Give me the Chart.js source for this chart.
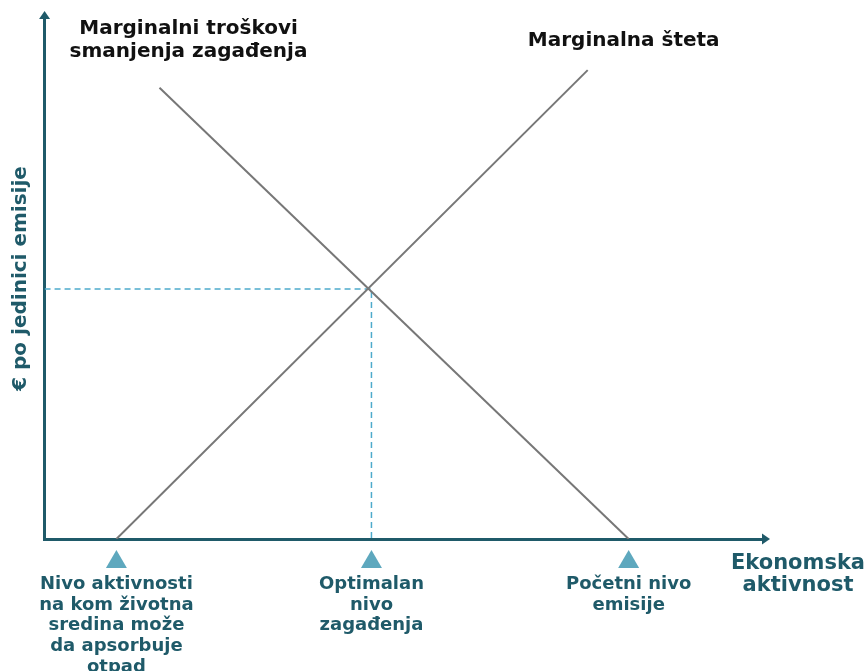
<!DOCTYPE html>
<html>
<head>
<meta charset="utf-8">
<script src="https://cdn.jsdelivr.net/npm/chart.js@4.4.1/dist/chart.umd.min.js"></script>
<style>
  html,body{margin:0;padding:0;background:#fff;}
  #wrap{width:867px;height:671px;position:relative;}
</style>
</head>
<body>
<div id="wrap"><canvas id="c"></canvas></div>
<script>
// ---- data ----
const xTickValues = [1.0, 4.55, 8.13];
const xTickLabels = [
  ["Nivo aktivnosti", "na kom životna", "sredina može", "da apsorbuje", "otpad"],
  ["Optimalan", "nivo", "zagađenja"],
  ["Početni nivo", "emisije"]
];
const damageX = [1.0, 7.56];
const damageY = [0, 9.0];
const abatementX = [1.6, 8.13];
const abatementY = [8.66, 0];
const optimumX = 4.55;
const optimumY = 4.8;
const damageLabel = "Marginalna šteta";
const abatementLabel = ["Marginalni troškovi", "smanjenja zagađenja"];
const xTitle = ["Ekonomska", "aktivnost"];
const yTitle = "€ po jedinici emisije";

const AXIS = "#1f5a69";
const TEAL_TEXT = "#1f5a69";
const TRI = "#5ea8be";
const DASH = "#4eaacb";
const LINE = "#777777";
const FONT = "'DejaVu Sans', sans-serif";

const toPts = (xs, ys) => xs.map((x, i) => ({x, y: ys[i]}));

const overlay = {
  id: 'overlay',
  afterDraw(chart) {
    const {ctx, chartArea: a, scales: {x, y}} = chart;
    ctx.save();
    // arrows
    ctx.fillStyle = AXIS;
    ctx.beginPath();
    ctx.moveTo(a.left, a.top - 7);
    ctx.lineTo(a.left - 5.5, a.top + 1);
    ctx.lineTo(a.left + 5.5, a.top + 1);
    ctx.closePath(); ctx.fill();
    ctx.beginPath();
    ctx.moveTo(a.right + 7, a.bottom);
    ctx.lineTo(a.right - 1, a.bottom - 5.5);
    ctx.lineTo(a.right - 1, a.bottom + 5.5);
    ctx.closePath(); ctx.fill();
    // triangles under ticks
    ctx.fillStyle = TRI;
    xTickValues.forEach(v => {
      const px = x.getPixelForValue(v);
      ctx.beginPath();
      ctx.moveTo(px, a.bottom + 11);
      ctx.lineTo(px - 10.5, a.bottom + 29);
      ctx.lineTo(px + 10.5, a.bottom + 29);
      ctx.closePath(); ctx.fill();
    });
    // curve labels
    ctx.fillStyle = "#111";
    ctx.textAlign = "center";
    ctx.textBaseline = "middle";
    ctx.font = "bold 20px " + FONT;
    const ax = x.getPixelForValue(abatementX[0]);
    const ay = y.getPixelForValue(abatementY[0]);
    ctx.fillText(abatementLabel[0], ax + 29, ay - 59);
    ctx.fillText(abatementLabel[1], ax + 29, ay - 36);
    const dx = x.getPixelForValue(damageX[1]);
    const dy = y.getPixelForValue(damageY[1]);
    ctx.font = "bold 20px " + FONT;
    ctx.fillText(damageLabel, dx + 36, dy - 29);
    // x title
    ctx.fillStyle = TEAL_TEXT;
    ctx.font = "bold 21px " + FONT;
    ctx.fillText(xTitle[0], a.right + 35, a.bottom + 25);
    ctx.fillText(xTitle[1], a.right + 35, a.bottom + 47);
    ctx.restore();
  }
};

new Chart(document.getElementById('c'), {
  type: 'scatter',
  data: {
    datasets: [
      {
        data: toPts(damageX, damageY),
        showLine: true, borderColor: LINE, borderWidth: 2, pointRadius: 0
      },
      {
        data: toPts(abatementX, abatementY),
        showLine: true, borderColor: LINE, borderWidth: 2, pointRadius: 0
      },
      {
        data: [{x: 0, y: optimumY}, {x: optimumX, y: optimumY}, {x: optimumX, y: 0}],
        showLine: true, borderColor: DASH, borderWidth: 1.5, borderDash: [6, 4],
        pointRadius: 0
      }
    ]
  },
  options: {
    responsive: true,
    maintainAspectRatio: false,
    animation: false,
    events: [],
    layout: {padding: {left: 0, top: 18, right: 104, bottom: 0}},
    plugins: {legend: {display: false}, tooltip: {enabled: false}},
    scales: {
      x: {
        type: 'linear', min: 0, max: 10,
        grid: {display: false, drawTicks: false},
        border: {display: true, color: AXIS, width: 3},
        afterBuildTicks: s => { s.ticks = xTickValues.map(v => ({value: v})); },
        afterFit: s => { s.height = 132; },
        ticks: {
          autoSkip: false, maxRotation: 0, minRotation: 0, padding: 35,
          color: TEAL_TEXT,
          font: {family: FONT, size: 18, weight: 'bold', lineHeight: 1.15},
          callback: (v, i) => xTickLabels[i]
        }
      },
      y: {
        type: 'linear', min: 0, max: 10,
        grid: {display: false, drawTicks: false},
        border: {display: true, color: AXIS, width: 3},
        ticks: {display: false},
        afterFit: s => { s.width = 42; },
        title: {
          display: true, text: yTitle, color: TEAL_TEXT,
          font: {family: FONT, size: 20, weight: 'bold', lineHeight: 1.2},
          padding: {top: 6, bottom: 0}
        }
      }
    }
  },
  plugins: [overlay]
});
</script>
</body>
</html>
